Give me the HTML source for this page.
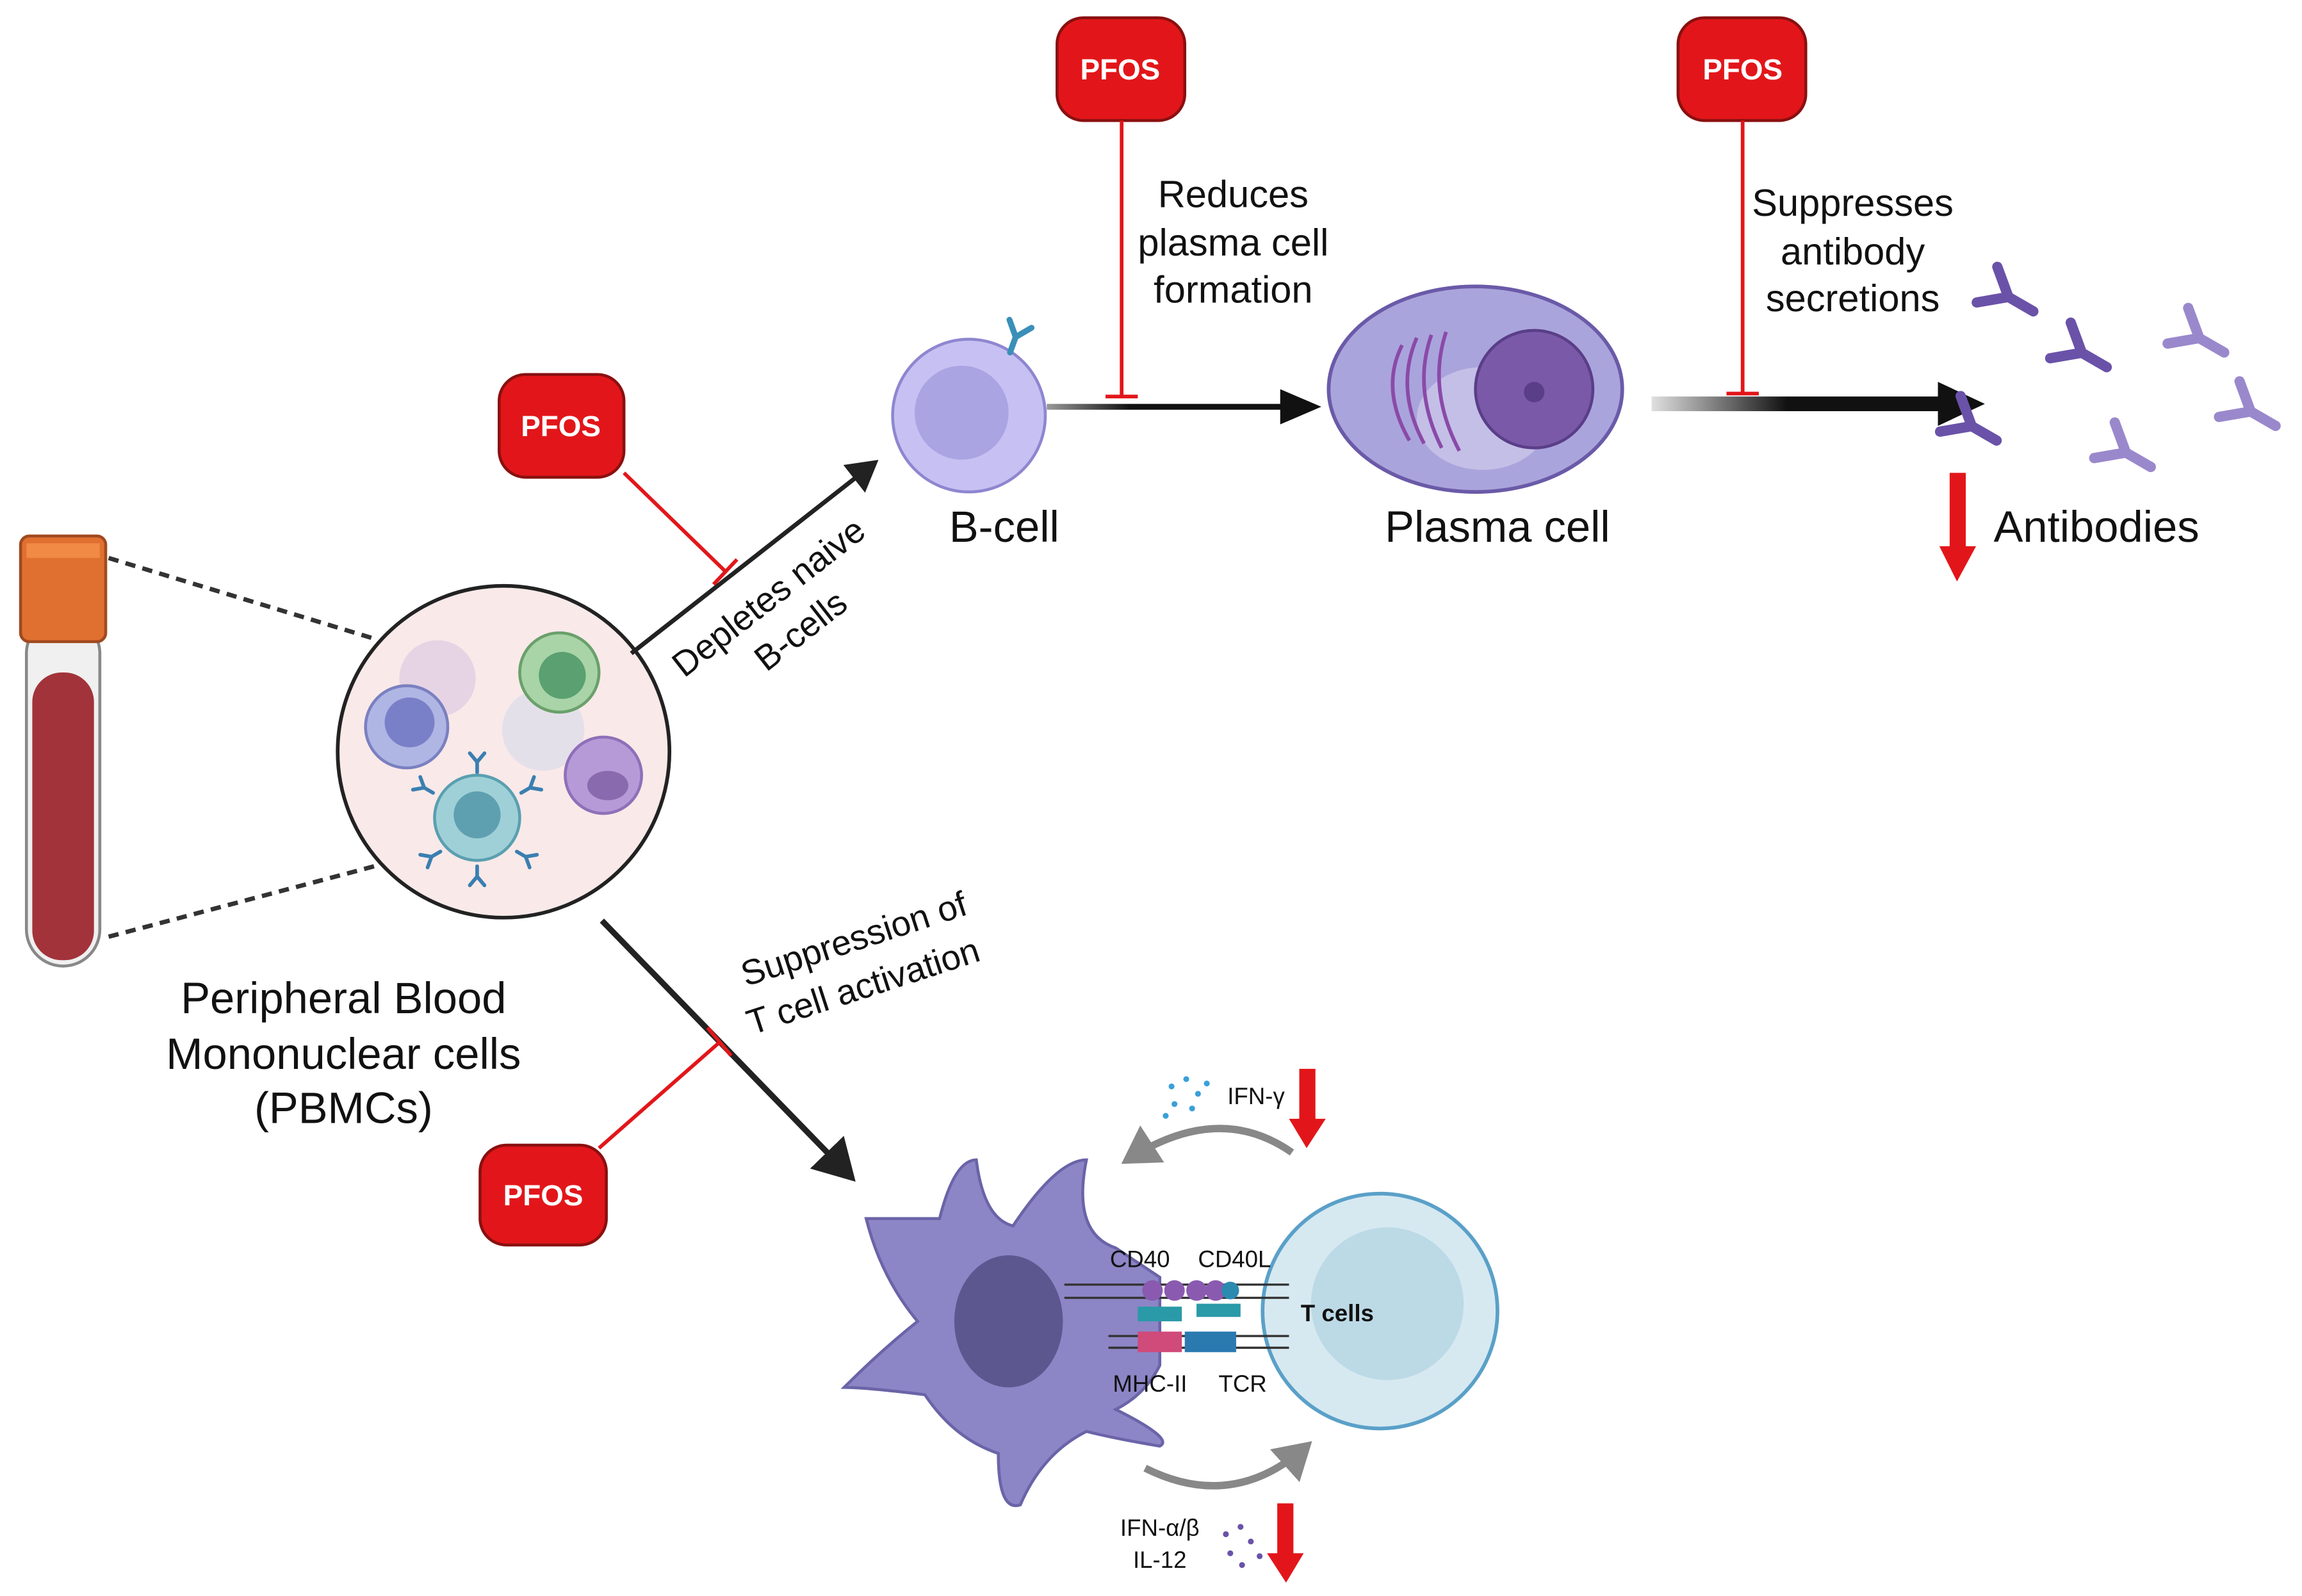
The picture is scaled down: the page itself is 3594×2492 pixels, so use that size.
<!DOCTYPE html>
<html><head><meta charset="utf-8"><style>
html,body{margin:0;padding:0;background:#fff}
svg{display:block}
text{font-family:"Liberation Sans",sans-serif}
</style></head><body>
<svg width="3594" height="2492" viewBox="0 0 1568 1087" xmlns="http://www.w3.org/2000/svg">
<defs>
<linearGradient id="g1" gradientUnits="userSpaceOnUse" x1="713" y1="0" x2="900" y2="0"><stop offset="0" stop-color="#999"/><stop offset="0.3" stop-color="#111"/><stop offset="1" stop-color="#111"/></linearGradient>
<linearGradient id="g2" gradientUnits="userSpaceOnUse" x1="1125" y1="0" x2="1330" y2="0"><stop offset="0" stop-color="#e0e0e0"/><stop offset="0.45" stop-color="#111"/><stop offset="1" stop-color="#111"/></linearGradient>
<marker id="ah" markerWidth="8" markerHeight="8" refX="6" refY="4" orient="auto" markerUnits="strokeWidth"><path d="M0,0 L7,4 L0,8 z" fill="#222"/></marker>
<marker id="ahg" markerWidth="6" markerHeight="6" refX="4" refY="3" orient="auto" markerUnits="strokeWidth"><path d="M0,0 L5,3 L0,6 z" fill="#888"/></marker>
<g id="ab"><path d="M0,0 L0,-14 M0,-14 L-10,-26 M0,-14 L10,-26" stroke-width="5" fill="none" stroke-linecap="round"/></g>
</defs>

<!-- tube -->
<rect x="18" y="420" width="50" height="238" rx="25" fill="#f0f0f0" stroke="#888" stroke-width="2"/>
<rect x="22" y="458" width="42" height="196" rx="20" fill="#a2333a"/>
<rect x="14" y="365" width="58" height="72" rx="6" fill="#e07030" stroke="#a04a20" stroke-width="2"/>
<rect x="18" y="370" width="50" height="10" fill="#f08a45"/>
<line x1="74" y1="380" x2="255" y2="435" stroke="#333" stroke-width="3" stroke-dasharray="7,5"/>
<line x1="74" y1="638" x2="255" y2="590" stroke="#333" stroke-width="3" stroke-dasharray="7,5"/>

<!-- PBMC circle -->
<circle cx="343" cy="512" r="113" fill="#f9e9e9" stroke="#222" stroke-width="2.5"/>
<circle cx="298" cy="462" r="26" fill="#e6d4e4"/>
<circle cx="370" cy="497" r="28" fill="#e4e0ea"/>
<circle cx="381" cy="458" r="27" fill="#a8d4a8" stroke="#6aa06a" stroke-width="2"/>
<circle cx="383" cy="460" r="16" fill="#5aa070"/>
<circle cx="277" cy="495" r="28" fill="#b0b6e4" stroke="#7a80c0" stroke-width="2"/>
<circle cx="279" cy="492" r="17" fill="#7a80c8"/>
<circle cx="411" cy="528" r="26" fill="#b69ad8" stroke="#8e70b8" stroke-width="2"/>
<ellipse cx="414" cy="535" rx="14" ry="10" fill="#8a6aae"/>
<circle cx="325" cy="557" r="29" fill="#9fd0d8" stroke="#5a9fb0" stroke-width="2"/>
<circle cx="325" cy="555" r="16" fill="#5fa0b0"/>
<g stroke="#3a7fb0"><use href="#ab" transform="translate(325,526) scale(0.5)"/><use href="#ab" transform="translate(295,540) rotate(-60) scale(0.5)"/><use href="#ab" transform="translate(355,540) rotate(60) scale(0.5)"/><use href="#ab" transform="translate(300,580) rotate(-120) scale(0.5)"/><use href="#ab" transform="translate(352,580) rotate(120) scale(0.5)"/><use href="#ab" transform="translate(325,590) rotate(180) scale(0.5)"/></g>

<text x="234" y="690" font-size="30" text-anchor="middle" fill="#111">Peripheral Blood</text>
<text x="234" y="728" font-size="30" text-anchor="middle" fill="#111">Mononuclear cells</text>
<text x="234" y="765" font-size="30" text-anchor="middle" fill="#111">(PBMCs)</text>

<!-- PFOS boxes -->
<g font-size="20" font-weight="bold" fill="#fff" text-anchor="middle">
<rect x="340" y="255" width="85" height="70" rx="18" fill="#e2161a" stroke="#8a1010" stroke-width="2"/><text x="382" y="297">PFOS</text>
<rect x="720" y="12" width="87" height="70" rx="18" fill="#e2161a" stroke="#8a1010" stroke-width="2"/><text x="763" y="54">PFOS</text>
<rect x="1143" y="12" width="87" height="70" rx="18" fill="#e2161a" stroke="#8a1010" stroke-width="2"/><text x="1187" y="54">PFOS</text>
<rect x="327" y="780" width="86" height="68" rx="18" fill="#e2161a" stroke="#8a1010" stroke-width="2"/><text x="370" y="821">PFOS</text>
</g>

<!-- top-left arrow -->
<line x1="430" y1="445" x2="596" y2="315" stroke="#222" stroke-width="3" marker-end="url(#ah)"/>
<line x1="425" y1="322" x2="495" y2="390" stroke="#e2161a" stroke-width="2.5"/>
<line x1="486" y1="398" x2="502" y2="381" stroke="#e2161a" stroke-width="2.5"/>
<text transform="translate(466,462) rotate(-38)" font-size="24" fill="#111">Depletes naive</text>
<text transform="translate(522,458) rotate(-38)" font-size="24" fill="#111">B-cells</text>

<!-- B cell -->
<circle cx="660" cy="283" r="52" fill="#c6c1f2" stroke="#8e86d0" stroke-width="2"/>
<circle cx="655" cy="281" r="32" fill="#aaa4e2"/>
<use href="#ab" transform="translate(688,240) rotate(20) scale(0.8)" stroke="#3a8fb8"/>
<text x="684" y="369" font-size="30" text-anchor="middle" fill="#111">B-cell</text>

<line x1="713" y1="277" x2="895" y2="277" stroke="url(#g1)" stroke-width="4"/>
<path d="M872,265 L900,277 L872,289 z" fill="#111"/>
<line x1="764" y1="82" x2="764" y2="270" stroke="#e2161a" stroke-width="2.5"/>
<line x1="753" y1="270" x2="775" y2="270" stroke="#e2161a" stroke-width="2.5"/>
<g font-size="26" text-anchor="middle" fill="#111"><text x="840" y="141">Reduces</text><text x="840" y="174">plasma cell</text><text x="840" y="206">formation</text></g>

<!-- plasma cell -->
<ellipse cx="1005" cy="265" rx="100" ry="70" fill="#aaa4dc" stroke="#6a5aa8" stroke-width="2.5"/>
<ellipse cx="1010" cy="285" rx="45" ry="35" fill="#c4bfe6"/>
<g fill="none" stroke="#8a4aa8" stroke-width="2.5"><path d="M955,235 Q940,265 960,300"/><path d="M965,230 Q950,265 970,302"/><path d="M975,228 Q962,265 982,305"/><path d="M985,226 Q972,265 994,307"/></g>
<circle cx="1045" cy="265" r="40" fill="#7a5aa8" stroke="#5a3e88" stroke-width="2"/>
<circle cx="1045" cy="267" r="7" fill="#5a3e88"/>
<text x="1020" y="369" font-size="30" text-anchor="middle" fill="#111">Plasma cell</text>

<line x1="1125" y1="275" x2="1322" y2="275" stroke="url(#g2)" stroke-width="10"/>
<path d="M1320,260 L1352,275 L1320,290 z" fill="#111"/>
<line x1="1187" y1="82" x2="1187" y2="268" stroke="#e2161a" stroke-width="2.5"/>
<line x1="1176" y1="268" x2="1198" y2="268" stroke="#e2161a" stroke-width="2.5"/>
<g font-size="26" text-anchor="middle" fill="#111"><text x="1262" y="147">Suppresses</text><text x="1262" y="180">antibody</text><text x="1262" y="212">secretions</text></g>

<!-- antibodies -->
<g stroke="#6a52a8">
<use href="#ab" transform="translate(1385,212) rotate(-60) scale(1.4)"/>
<use href="#ab" transform="translate(1435,250) rotate(-60) scale(1.4)"/>
<use href="#ab" transform="translate(1360,300) rotate(-60) scale(1.4)"/>
</g>
<g stroke="#9a88cc">
<use href="#ab" transform="translate(1515,240) rotate(-60) scale(1.4)"/>
<use href="#ab" transform="translate(1550,290) rotate(-60) scale(1.4)"/>
<use href="#ab" transform="translate(1465,318) rotate(-60) scale(1.4)"/>
</g>
<rect x="1328" y="322" width="11" height="52" fill="#e2161a"/><path d="M1321,372 L1346,372 L1333,396 z" fill="#e2161a"/>
<text x="1428" y="369" font-size="30" text-anchor="middle" fill="#111">Antibodies</text>

<!-- bottom arrow -->
<line x1="410" y1="627" x2="580" y2="802" stroke="#222" stroke-width="4" marker-end="url(#ah)"/>
<line x1="408" y1="782" x2="490" y2="710" stroke="#e2161a" stroke-width="2.5"/>
<line x1="482" y1="700" x2="498" y2="719" stroke="#e2161a" stroke-width="2.5"/>
<text transform="translate(508,672) rotate(-18)" font-size="24" fill="#111">Suppression of</text>
<text transform="translate(512,705) rotate(-18)" font-size="24" fill="#111">T cell activation</text>

<!-- dendritic cell -->
<path d="M640,830 Q650,790 665,790 Q670,830 690,835 Q720,790 740,790 Q730,840 760,850 L790,870 L790,930 Q780,950 760,960 Q800,980 790,985 Q760,980 740,975 Q710,990 695,1025 Q680,1030 680,990 Q650,980 630,950 Q590,945 575,945 Q600,920 625,900 Q600,870 590,830 Q620,830 640,830 z" fill="#8c86c6" stroke="#6a64a8" stroke-width="2"/>
<ellipse cx="687" cy="900" rx="37" ry="45" fill="#5d5790"/>

<!-- T cell -->
<circle cx="940" cy="893" r="80" fill="#d6e9f1" stroke="#5aa0c8" stroke-width="2.5"/>
<circle cx="945" cy="888" r="52" fill="#bcd9e6"/>
<g stroke="#333" stroke-width="1.5"><line x1="725" y1="875" x2="878" y2="875"/><line x1="725" y1="884" x2="878" y2="884"/><line x1="755" y1="910" x2="878" y2="910"/><line x1="755" y1="918" x2="878" y2="918"/></g>
<g fill="#8a5ab0"><circle cx="785" cy="879" r="7"/><circle cx="800" cy="879" r="7"/><circle cx="815" cy="879" r="7"/><circle cx="828" cy="879" r="7"/></g>
<circle cx="838" cy="879" r="6" fill="#2a8ab0"/>
<rect x="775" y="890" width="30" height="10" fill="#2a9aa8"/><rect x="815" y="888" width="30" height="9" fill="#2a9aa8"/>
<rect x="775" y="907" width="30" height="14" fill="#d04a7a"/><rect x="807" y="907" width="35" height="14" fill="#2a7ab0"/>
<g font-size="16" fill="#111"><text x="756" y="863">CD40</text><text x="816" y="863">CD40L</text><text x="886" y="900" font-weight="bold">T cells</text><text x="758" y="948">MHC-II</text><text x="830" y="948">TCR</text></g>

<!-- curved arrows -->
<path d="M880,785 Q830,750 768,790" fill="none" stroke="#888" stroke-width="5" marker-end="url(#ahg)"/>
<path d="M780,1000 Q840,1030 890,985" fill="none" stroke="#888" stroke-width="5" marker-end="url(#ahg)"/>
<g fill="#3aa0d8"><circle cx="798" cy="740" r="2"/><circle cx="808" cy="735" r="2"/><circle cx="816" cy="745" r="2"/><circle cx="800" cy="752" r="2"/><circle cx="812" cy="755" r="2"/><circle cx="822" cy="738" r="2"/><circle cx="794" cy="760" r="2"/></g>
<text x="836" y="752" font-size="16" fill="#111">IFN-γ</text>
<rect x="885" y="728" width="11" height="36" fill="#e2161a"/><path d="M878,762 L903,762 L890,782 z" fill="#e2161a"/>
<g fill="#6a52a8"><circle cx="835" cy="1045" r="2"/><circle cx="845" cy="1040" r="2"/><circle cx="852" cy="1050" r="2"/><circle cx="838" cy="1058" r="2"/><circle cx="858" cy="1060" r="2"/><circle cx="846" cy="1066" r="2"/></g>
<text x="790" y="1046" font-size="16" fill="#111" text-anchor="middle">IFN-α/β</text>
<text x="790" y="1068" font-size="16" fill="#111" text-anchor="middle">IL-12</text>
<rect x="870" y="1024" width="11" height="36" fill="#e2161a"/><path d="M863,1058 L888,1058 L876,1078 z" fill="#e2161a"/>
</svg>
</body></html>
